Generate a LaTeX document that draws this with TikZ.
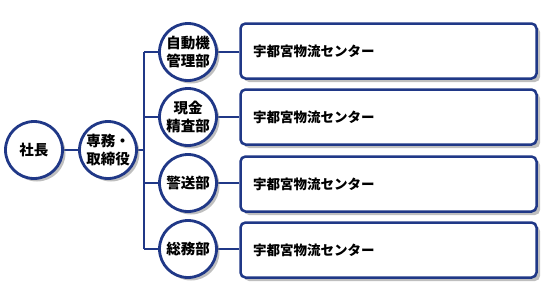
\documentclass[tikz,border=0pt]{standalone}
\usepackage{fontspec}
\newfontfamily\cjk{Noto Sans CJK JP}
\usetikzlibrary{shadows,backgrounds}
\definecolor{navy}{RGB}{32,56,135}
\tikzset{
  x=1pt,y=-1pt,
  org/.style={circle,draw=navy,line width=2.8pt,fill=white,minimum size=57pt,inner sep=0pt,
    font=\cjk\bfseries\fontsize{14.5}{17.5}\selectfont,align=center,
    drop shadow={shadow xshift=3pt,shadow yshift=-3pt,opacity=0.5,fill=black!50}},
  unit/.style={rectangle,rounded corners=5pt,draw=navy,line width=2.5pt,fill=white,
    minimum width=296pt,minimum height=55pt,inner sep=0pt,
    drop shadow={shadow xshift=3.5pt,shadow yshift=-3.5pt,opacity=0.5,fill=black!50}},
  lbl/.style={font=\cjk\bfseries\fontsize{13.5}{15}\selectfont,anchor=west,inner sep=0pt},
  lnk/.style={draw=navy,line width=2.2pt}
}
\begin{document}
\begin{tikzpicture}
\useasboundingbox (0,0) rectangle (550,300);
\node[org] (pres) at (34,150) {社長};
\node[org] (exec) at (108,150) {専務・\\取締役};
\node[org] (d1) at (188,52) {自動機\\管理部};
\node[org] (d2) at (188,117) {現金\\精査部};
\node[org] (d3) at (188,183) {警送部};
\node[org] (d4) at (188,249) {総務部};
\coordinate (bt) at (144,52);
\coordinate (bb) at (144,249);
\coordinate (bm) at (144,150);
\foreach \i/\y in {1/51,2/117,3/184,4/250}{
  \node[unit] (u\i) at (388.5,\y) {};
  \node[lbl] (t\i) at (253,\y) {宇都宮物流センター};
}
\begin{scope}[on background layer]
\draw[lnk] (pres) -- (exec);
\draw[lnk] (exec) -- (bm);
\draw[lnk] (bt) -- (bb);
\foreach \i in {1,2,3,4}{
  \draw[lnk] (bt |- d\i) -- (d\i);
  \draw[lnk] (d\i) -- (d\i -| u\i.west);
}
\end{scope}
\end{tikzpicture}
\end{document}
